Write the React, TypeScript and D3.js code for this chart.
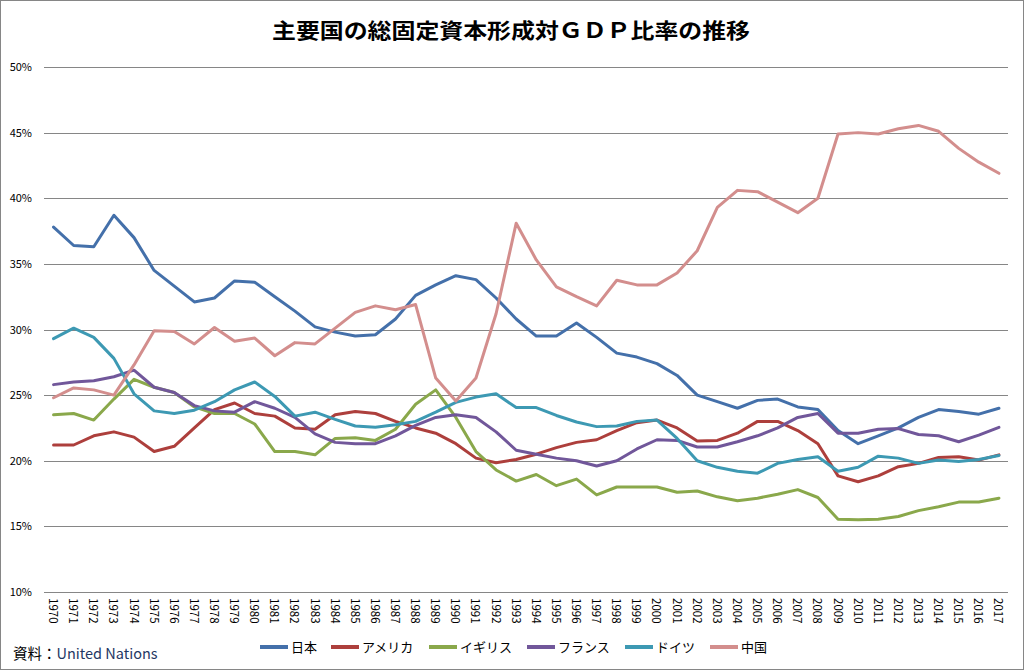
import React from 'react';
import * as d3 from 'd3';

const years = [
  '1970', '1971', '1972', '1973', '1974', '1975', '1976', '1977', '1978', '1979',
  '1980', '1981', '1982', '1983', '1984', '1985', '1986', '1987', '1988', '1989',
  '1990', '1991', '1992', '1993', '1994', '1995', '1996', '1997', '1998', '1999',
  '2000', '2001', '2002', '2003', '2004', '2005', '2006', '2007', '2008', '2009',
  '2010', '2011', '2012', '2013', '2014', '2015', '2016', '2017',
];

const japan = [
  37.8, 36.4, 36.3, 38.7, 37.0, 34.5, 33.3, 32.1, 32.4, 33.7,
  33.6, 32.5, 31.4, 30.2, 29.8, 29.5, 29.6, 30.8, 32.6, 33.4,
  34.1, 33.8, 32.4, 30.8, 29.5, 29.5, 30.5, 29.4, 28.2, 27.9,
  27.4, 26.5, 25.0, 24.5, 24.0, 24.6, 24.7, 24.1, 23.9, 22.3,
  21.3, 21.9, 22.5, 23.3, 23.9, 23.75, 23.55, 24.0,
];
const usa = [
  21.2, 21.2, 21.9, 22.2, 21.8, 20.7, 21.1, 22.5, 23.9, 24.4,
  23.6, 23.4, 22.5, 22.4, 23.5, 23.75, 23.6, 23.0, 22.5, 22.1,
  21.3, 20.2, 19.85, 20.1, 20.5, 21.0, 21.4, 21.6, 22.3, 22.9,
  23.1, 22.5, 21.5, 21.55, 22.1, 23.0, 23.0, 22.3, 21.3, 18.85,
  18.4, 18.85, 19.55, 19.8, 20.25, 20.3, 20.05, 20.45,
];
const uk = [
  23.5, 23.6, 23.1, 24.7, 26.2, 25.6, 25.2, 24.1, 23.6, 23.6,
  22.8, 20.7, 20.7, 20.45, 21.7, 21.75, 21.55, 22.4, 24.3, 25.4,
  23.3, 20.7, 19.3, 18.45, 18.95, 18.1, 18.6, 17.4, 18.0, 18.0,
  18.0, 17.6, 17.7, 17.25, 16.95, 17.15, 17.45, 17.8, 17.2, 15.55,
  15.5, 15.55, 15.75, 16.2, 16.5, 16.85, 16.85, 17.15,
];
const france = [
  25.8, 26.0, 26.1, 26.4, 26.9, 25.6, 25.2, 24.2, 23.8, 23.7,
  24.5, 24.0, 23.3, 22.05, 21.4, 21.3, 21.3, 21.9, 22.7, 23.3,
  23.5, 23.3, 22.2, 20.8, 20.5, 20.2, 20.0, 19.6, 20.0, 20.9,
  21.6, 21.55, 21.05, 21.05, 21.45, 21.9, 22.5, 23.3, 23.6, 22.1,
  22.1, 22.4, 22.45, 22.0, 21.9, 21.45, 21.95, 22.55,
];
const germany = [
  29.3, 30.1, 29.4, 27.8, 25.1, 23.8, 23.6, 23.85, 24.5, 25.4,
  26.0, 24.9, 23.4, 23.7, 23.15, 22.65, 22.55, 22.75, 23.0, 23.7,
  24.45, 24.85, 25.1, 24.05, 24.05, 23.45, 22.95, 22.6, 22.65, 23.0,
  23.1, 21.7, 20.0, 19.5, 19.2, 19.05, 19.8, 20.1, 20.3, 19.2,
  19.5, 20.35, 20.2, 19.8, 20.05, 19.95, 20.1, 20.4,
];
const china = [
  24.8, 25.55, 25.4, 25.0, 27.3, 29.9, 29.85, 28.9, 30.15, 29.1,
  29.35, 28.0, 29.0, 28.9, 30.1, 31.3, 31.8, 31.5, 31.9, 26.3,
  24.55, 26.3, 31.2, 38.1, 35.3, 33.25, 32.5, 31.8, 33.75, 33.4,
  33.4, 34.3, 36.0, 39.3, 40.6, 40.5, 39.7, 38.9, 40.0, 44.9,
  45.0, 44.9, 45.3, 45.55, 45.1, 43.8, 42.75, 41.9,
];

const seriesNames = ['日本', 'アメリカ', 'イギリス', 'フランス', 'ドイツ', '中国'];
const seriesValues = [japan, usa, uk, france, germany, china];
const seriesColors = ['#4470AA', '#AD3F3C', '#8AA84B', '#71579A', '#3D99B3', '#D38E8D'];
const yTicks = [10, 15, 20, 25, 30, 35, 40, 45, 50];
// legend swatch left edges
const legendX = [260, 331, 429, 527, 625, 710];

const W = 1024;
const H = 670;
const font = '"Noto Sans CJK JP", "Noto Sans", sans-serif';

export default function App() {
  const x = d3.scalePoint<string>().domain(years).range([43.5, 1009]).padding(0.5);
  const y = d3.scaleLinear().domain([10, 50]).range([592, 67]);
  const line = d3
    .line<number>()
    .x((d, i) => x(years[i]) as number)
    .y(d => y(d));

  return (
    <svg
      width={W}
      height={H}
      style={{ position: 'absolute', left: 0, top: 0, background: '#fff' }}
      fontFamily={font}
    >
      <rect x={0.5} y={0.5} width={W - 1} height={H - 1} fill="#fff" stroke="#868686" />
      <text x={511} y={38} textAnchor="middle" fontSize={21} fontWeight="bold" textLength={478} lengthAdjust="spacingAndGlyphs">
        主要国の総固定資本形成対ＧＤＰ比率の推移
      </text>

      {yTicks.map(t => (
        <g key={t}>
          <line x1={44} x2={1008} y1={Math.round(y(t)) + 0.5} y2={Math.round(y(t)) + 0.5} stroke="#868686" strokeWidth={1} />
          <text x={32} y={y(t) + 4} textAnchor="end" fontSize={11}>
            {t}%
          </text>
        </g>
      ))}

      {years.map(yr => (
        <text
          key={yr}
          transform={`translate(${(x(yr) as number) - 4.5},598) rotate(90)`}
          fontSize={11.5}
          textAnchor="start"
        >
          {yr}
        </text>
      ))}

      {seriesValues.map((vals, i) => (
        <path
          key={seriesNames[i]}
          d={line(vals) ?? ''}
          fill="none"
          stroke={seriesColors[i]}
          strokeWidth={3}
          strokeLinejoin="round"
          strokeLinecap="round"
        />
      ))}

      {seriesNames.map((name, i) => (
        <g key={name}>
          <line x1={legendX[i]} x2={legendX[i] + 28} y1={647} y2={647} stroke={seriesColors[i]} strokeWidth={4} />
          <text x={legendX[i] + 31} y={652} fontSize={13}>
            {name}
          </text>
        </g>
      ))}

      <text x={13} y={659} fontSize={14.5}>
        資料：<tspan fill="#1F3864">United Nations</tspan>
      </text>
    </svg>
  );
}
